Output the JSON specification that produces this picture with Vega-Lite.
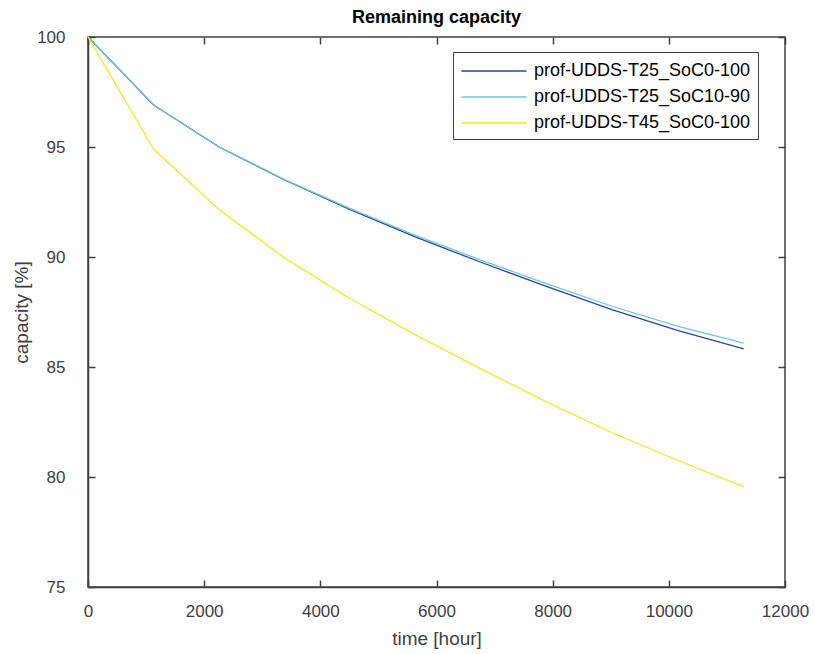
{
  "$schema": "https://vega.github.io/schema/vega-lite/v6.json",
  "width": 697,
  "height": 550,
  "autosize": "none",
  "padding": {"left": 88, "top": 37, "right": 30, "bottom": 67},
  "background": "white",
  "title": {"text": "Remaining capacity", "font": "Liberation Sans", "fontSize": 18, "fontWeight": "bold", "color": "#000000", "offset": 1, "anchor": "middle"},
  "config": {
    "view": {"stroke": "#404040", "strokeWidth": 1.5},
    "axis": {"domainColor": "#404040", "domainWidth": 1.5, "tickColor": "#404040", "tickWidth": 1.5, "labelColor": "#404040", "titleColor": "#404040", "labelFont": "Liberation Sans", "titleFont": "Liberation Sans", "labelFontSize": 17, "titleFontSize": 19, "titleFontWeight": "normal", "grid": false, "labelFlush": false}
  },
  "data": {"values": [
    {"series": "prof-UDDS-T25_SoC0-100", "t": 0, "cap": 100},
    {"series": "prof-UDDS-T25_SoC0-100", "t": 1129, "cap": 96.91},
    {"series": "prof-UDDS-T25_SoC0-100", "t": 2258, "cap": 95.0},
    {"series": "prof-UDDS-T25_SoC0-100", "t": 3387, "cap": 93.5},
    {"series": "prof-UDDS-T25_SoC0-100", "t": 4516, "cap": 92.15},
    {"series": "prof-UDDS-T25_SoC0-100", "t": 5645, "cap": 90.9},
    {"series": "prof-UDDS-T25_SoC0-100", "t": 6774, "cap": 89.75},
    {"series": "prof-UDDS-T25_SoC0-100", "t": 7903, "cap": 88.65},
    {"series": "prof-UDDS-T25_SoC0-100", "t": 9032, "cap": 87.6},
    {"series": "prof-UDDS-T25_SoC0-100", "t": 10161, "cap": 86.65},
    {"series": "prof-UDDS-T25_SoC0-100", "t": 11290, "cap": 85.82},
    {"series": "prof-UDDS-T25_SoC10-90", "t": 0, "cap": 100},
    {"series": "prof-UDDS-T25_SoC10-90", "t": 1129, "cap": 96.91},
    {"series": "prof-UDDS-T25_SoC10-90", "t": 2258, "cap": 95.0},
    {"series": "prof-UDDS-T25_SoC10-90", "t": 3387, "cap": 93.52},
    {"series": "prof-UDDS-T25_SoC10-90", "t": 4516, "cap": 92.2},
    {"series": "prof-UDDS-T25_SoC10-90", "t": 5645, "cap": 90.97},
    {"series": "prof-UDDS-T25_SoC10-90", "t": 6774, "cap": 89.85},
    {"series": "prof-UDDS-T25_SoC10-90", "t": 7903, "cap": 88.78},
    {"series": "prof-UDDS-T25_SoC10-90", "t": 9032, "cap": 87.75},
    {"series": "prof-UDDS-T25_SoC10-90", "t": 10161, "cap": 86.85},
    {"series": "prof-UDDS-T25_SoC10-90", "t": 11290, "cap": 86.09},
    {"series": "prof-UDDS-T45_SoC0-100", "t": 0, "cap": 100},
    {"series": "prof-UDDS-T45_SoC0-100", "t": 1129, "cap": 94.91},
    {"series": "prof-UDDS-T45_SoC0-100", "t": 2258, "cap": 92.15},
    {"series": "prof-UDDS-T45_SoC0-100", "t": 3387, "cap": 89.95},
    {"series": "prof-UDDS-T45_SoC0-100", "t": 4516, "cap": 88.1},
    {"series": "prof-UDDS-T45_SoC0-100", "t": 5645, "cap": 86.45},
    {"series": "prof-UDDS-T45_SoC0-100", "t": 6774, "cap": 84.9},
    {"series": "prof-UDDS-T45_SoC0-100", "t": 7903, "cap": 83.4},
    {"series": "prof-UDDS-T45_SoC0-100", "t": 9032, "cap": 82.0},
    {"series": "prof-UDDS-T45_SoC0-100", "t": 10161, "cap": 80.75},
    {"series": "prof-UDDS-T45_SoC0-100", "t": 11290, "cap": 79.55}
  ]},
  "layer": [
    {
      "mark": {"type": "line", "strokeWidth": 1.3},
      "encoding": {
        "x": {"field": "t", "type": "quantitative", "scale": {"domain": [0, 12000], "nice": false}, "axis": {"title": "time [hour]", "format": "d", "values": [0, 2000, 4000, 6000, 8000, 10000, 12000], "tickSize": -7, "labelPadding": 23, "titlePadding": 10}},
        "y": {"field": "cap", "type": "quantitative", "scale": {"domain": [75, 100], "nice": false, "zero": false}, "axis": {"title": "capacity [%]", "format": "d", "values": [75, 80, 85, 90, 95, 100], "tickSize": -7, "labelPadding": 30, "titlePadding": 5}},
        "color": {"field": "series", "type": "nominal", "scale": {"range": ["#2b45a0", "#6cc8dc", "#f2ea1e"]}, "legend": {"title": null, "orient": "none", "legendX": 365, "legendY": 15, "symbolType": "M-3,0L3,0", "symbolSize": 470, "symbolOffset": 22, "symbolStrokeWidth": 1.5, "labelFont": "Liberation Sans", "labelFontSize": 18, "labelLimit": 400, "labelColor": "#000000", "strokeColor": "#404040", "fillColor": "white", "padding": 7, "rowPadding": 5, "labelOffset": 28}}
      }
    },
    {
      "mark": {"type": "rule", "opacity": 0},
      "encoding": {
        "x": {"field": "t", "type": "quantitative", "axis": {"orient": "top", "title": null, "labels": false, "values": [0, 2000, 4000, 6000, 8000, 10000, 12000], "tickSize": -7, "domain": false}},
        "y": {"field": "cap", "type": "quantitative", "axis": {"orient": "right", "title": null, "labels": false, "values": [75, 80, 85, 90, 95, 100], "tickSize": -7, "domain": false}}
      }
    }
  ],
  "resolve": {"axis": {"x": "independent", "y": "independent"}}
}
